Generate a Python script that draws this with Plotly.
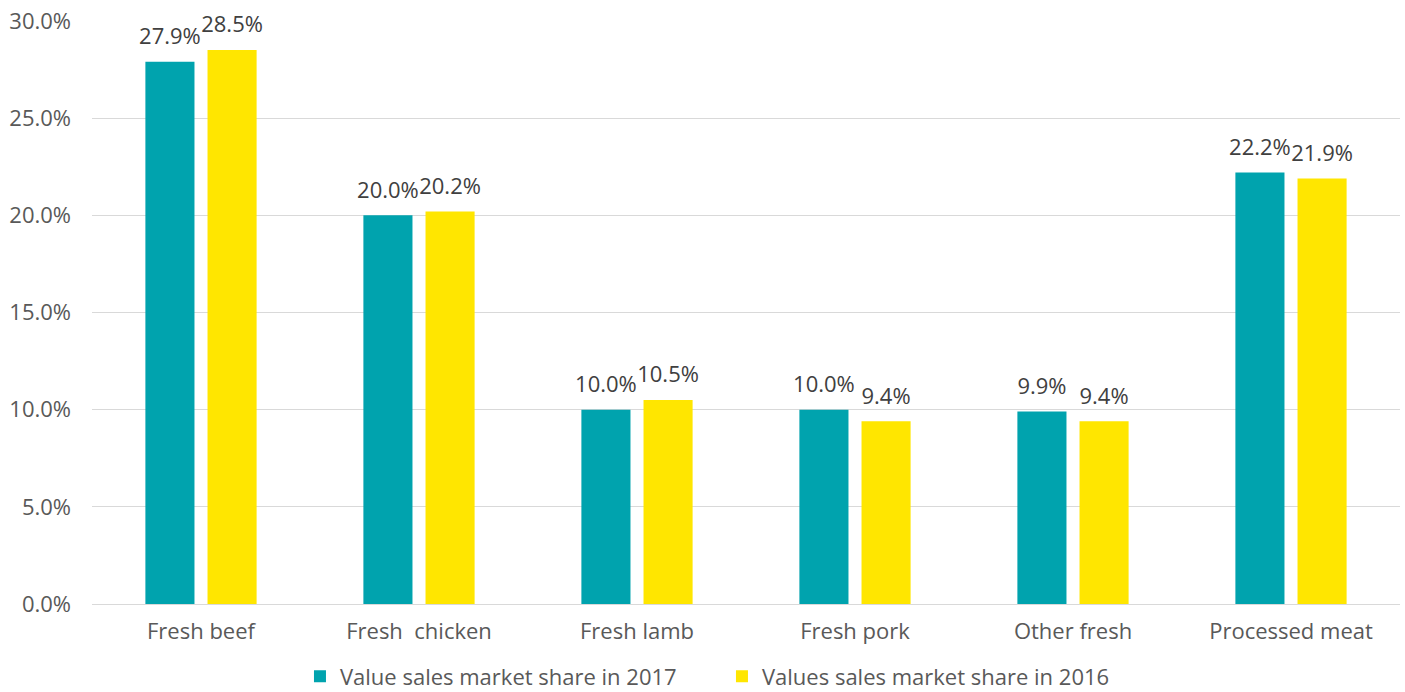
import plotly.graph_objects as go

categories = ["Fresh beef", "Fresh  chicken", "Fresh lamb", "Fresh pork", "Other fresh", "Processed meat"]
share_2017 = [27.9, 20.0, 10.0, 10.0, 9.9, 22.2]
share_2016 = [28.5, 20.2, 10.5, 9.4, 9.4, 21.9]
series_names = ["Value sales market share in 2017", "Values sales market share in 2016"]
tick_vals = [0, 5, 10, 15, 20, 25, 30]
tick_text = ["0.0%", "5.0%", "10.0%", "15.0%", "20.0%", "25.0%", "30.0%"]

FONT = "Open Sans, Liberation Sans, sans-serif"

fig = go.Figure()
for i, (name, vals, color) in enumerate([(series_names[0], share_2017, "#00A3AE"),
                                         (series_names[1], share_2016, "#FFE600")]):
    fig.add_trace(go.Bar(
        x=categories, y=vals, name=name, marker_color=color,
        marker_line_width=0, offsetgroup=str(i),
    ))
for i, vals in enumerate([share_2017, share_2016]):
    fig.add_trace(go.Scatter(
        x=categories, y=vals, mode="markers+text", offsetgroup=str(i),
        marker=dict(size=18, opacity=0), showlegend=False, hoverinfo="skip",
        text=[f"{v:.1f}%" for v in vals], textposition="top center",
        textfont=dict(size=22, color="#404040", family=FONT),
        cliponaxis=False,
    ))

fig.update_layout(
    width=1405, height=692,
    margin=dict(l=92, r=5, t=20, b=88, autoexpand=False),
    paper_bgcolor="white", plot_bgcolor="white",
    barmode="group", bargap=0.43, bargroupgap=0.21,
    scattermode="group", scattergap=0.43,
    font=dict(family=FONT, color="#595959", size=22),
    showlegend=True,
    legend=dict(orientation="h", x=0.159, xanchor="left", y=-0.088, yanchor="top",
                font=dict(size=22, color="#595959"), itemwidth=30,
                entrywidth=377, entrywidthmode="pixels",
                traceorder="normal"),
)
fig.update_xaxes(showgrid=False, showline=False, ticks="", automargin=False,
                 ticklabelstandoff=12, tickfont=dict(size=22, color="#595959"))
fig.update_yaxes(range=[0, 30.05], tickvals=tick_vals, ticktext=tick_text,
                 showgrid=True, gridcolor="#d9d9d9", gridwidth=1,
                 zeroline=True, zerolinecolor="#d9d9d9", zerolinewidth=1,
                 showline=False, ticks="", ticklabelstandoff=20, automargin=False,
                 tickfont=dict(size=22, color="#595959"))

fig.write_html("out.html", config={"displayModeBar": False},
               post_script="document.body.style.margin='0';")
